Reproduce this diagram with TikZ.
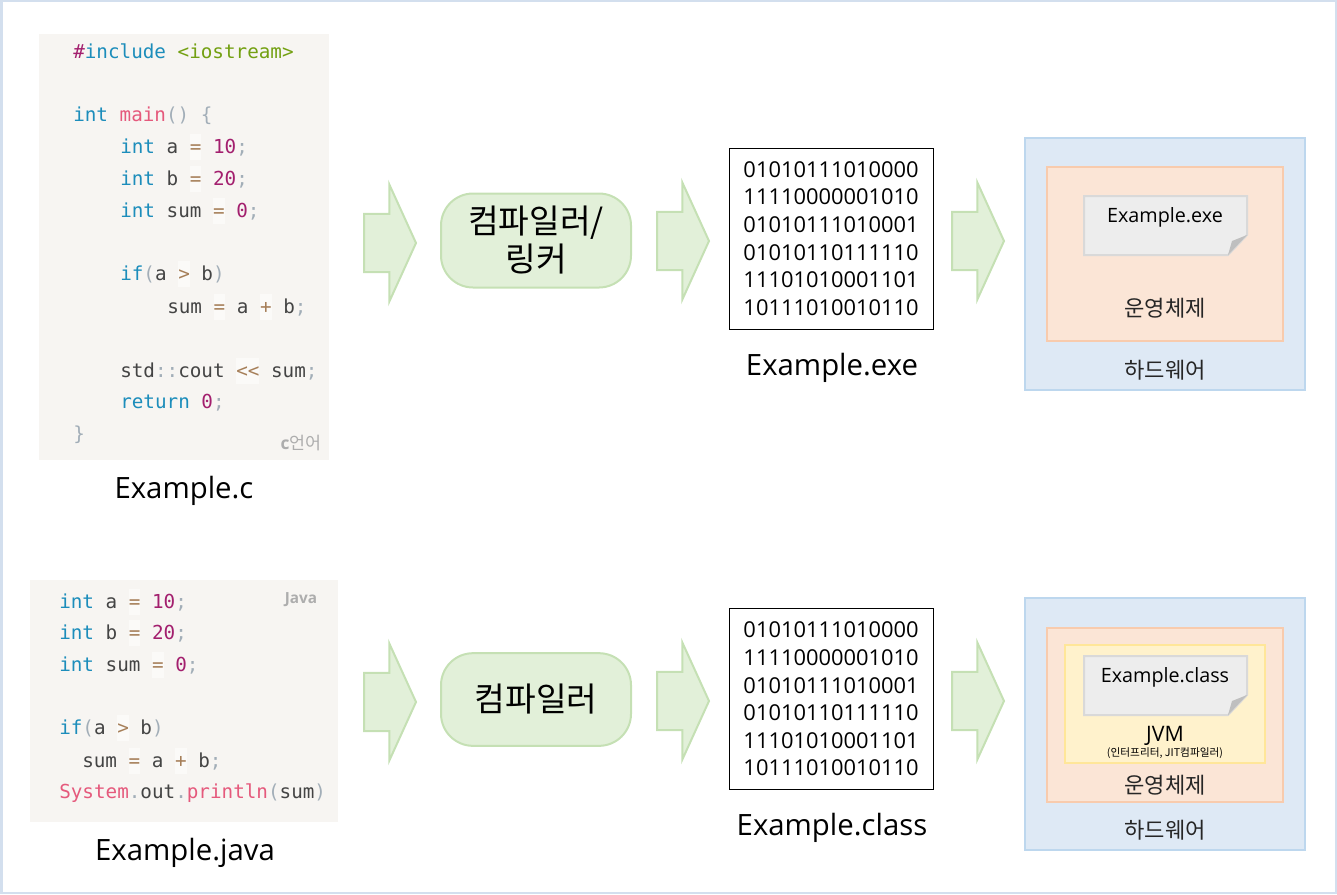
\documentclass[tikz,border=0pt]{standalone}
\usepackage{fontspec}
\setmainfont{Open Sans}
\setmonofont{DejaVu Sans Mono}
\newfontfamily\kofont{Noto Sans CJK KR}
\usetikzlibrary{shapes.arrows}

\definecolor{framecol}{HTML}{D3DFEE}
\definecolor{codebg}{HTML}{F7F5F2}
\definecolor{codeink}{HTML}{444444}
\definecolor{kwcol}{HTML}{1C8DBB}
\definecolor{fncol}{HTML}{E5597C}
\definecolor{numcol}{HTML}{A31F6E}
\definecolor{strcol}{HTML}{73A012}
\definecolor{opcol}{HTML}{A67F59}
\definecolor{pucol}{HTML}{A2AEB8}
\definecolor{opbg}{HTML}{FBFAF8}
\definecolor{greenfill}{HTML}{E2F0D9}
\definecolor{greenline}{HTML}{C5E0B4}
\definecolor{hwfill}{HTML}{DEE9F5}
\definecolor{hwline}{HTML}{BDD7EE}
\definecolor{osfill}{HTML}{FBE5D6}
\definecolor{osline}{HTML}{F8CBAD}
\definecolor{jvmfill}{HTML}{FFF2CC}
\definecolor{jvmline}{HTML}{FFE699}
\definecolor{docfill}{HTML}{EDEDED}
\definecolor{docline}{HTML}{D9D9D9}

\newcommand{\kw}[1]{\textcolor{kwcol}{#1}}
\newcommand{\fn}[1]{\textcolor{fncol}{#1}}
\newcommand{\num}[1]{\textcolor{numcol}{#1}}
\newcommand{\pu}[1]{\textcolor{pucol}{#1}}
\newcommand{\op}[1]{{\setlength{\fboxsep}{0pt}\colorbox{opbg}{\textcolor{opcol}{\rule[-5pt]{0pt}{19pt}#1}}}}

\tikzset{
    boxpart/.style={inner sep=0,line width=1.5pt},
    codepart/.style={boxpart,fill=codebg},
    codeline/.style={inner sep=0,anchor=base west,text=codeink,font=\fontsize{14.45pt}{17pt}\ttfamily},
    blockarrow/.style={single arrow,anchor=tail,fill=greenfill,draw=greenline,line width=1.5pt,
        inner xsep=0,inner ysep=21pt,minimum height=39pt,minimum width=88pt,
        single arrow head extend=22pt,shape border rotate=0,single arrow tip angle=131},
    stepbox/.style={boxpart,fill=greenfill,draw=greenline,rounded corners=24pt,
        align=center,font=\fontsize{25pt}{28.5pt}\kofont},
    binbox/.style={draw=black,line width=0.75pt,inner sep=0,align=center,
        font=\fontsize{16.4pt}{20.7pt}\selectfont},
    caption/.style={inner sep=0,font=\fontsize{22pt}{28pt}\selectfont},
    kotext/.style={inner sep=0,text=black!85,font=\fontsize{16.6pt}{18pt}\kofont},
}

\begin{document}
\begin{tikzpicture}[x=0.75pt,y=-0.75pt]
    \useasboundingbox (0,0) rectangle (1337,894);
    \node (frame) [draw=framecol,line width=1.5pt,inner sep=0,minimum width=1000.5pt,minimum height=668.5pt] at (668.5,447) {};

    % source code boxes
    \node (codec) [codepart,minimum width=217.5pt,minimum height=319.5pt] at (184,247) {};
    \node (codej) [codepart,minimum width=231pt,minimum height=181.5pt] at (184,701) {};
    \foreach \n/\xx/\yy/\txt in {
        1/73/58/{\textcolor{numcol}{\#}\kw{include} \textcolor{strcol}{<iostream>}},
        2/73/121/{\kw{int} \fn{main}\pu{()} \pu{\{}},
        3/120/153/{\kw{int} a \op{=} \num{10}\pu{;}},
        4/120/185/{\kw{int} b \op{=} \num{20}\pu{;}},
        5/120/217/{\kw{int} sum \op{=} \num{0}\pu{;}},
        6/120/280/{\kw{if}\pu{(}a \op{>} b\pu{)}},
        7/167/313/{sum \op{=} a \op{+} b\pu{;}},
        8/120/377/{std\pu{::}cout \op{<{}<} sum\pu{;}},
        9/120/408/{\kw{return} \num{0}\pu{;}},
        10/73/440/{\pu{\}}}} {
        \node (cline\n) [codeline] at (\xx,\yy) {\txt};
    }
    \foreach \n/\xx/\yy/\txt in {
        1/59/608/{\kw{int} a \op{=} \num{10}\pu{;}},
        2/59/639/{\kw{int} b \op{=} \num{20}\pu{;}},
        3/59/671/{\kw{int} sum \op{=} \num{0}\pu{;}},
        4/59/734/{\kw{if}\pu{(}a \op{>} b\pu{)}},
        5/82/767/{sum \op{=} a \op{+} b\pu{;}},
        6/59/798/{\fn{System}\pu{.}out\pu{.}\fn{println}\pu{(}sum\pu{)}}} {
        \node (jline\n) [codeline] at (\xx,\yy) {\txt};
    }
    \node (ctag) [inner sep=0,text=black!32,font=\fontsize{13pt}{15pt}\selectfont] at (301,443) {\textbf{c}{\kofont 언어}};
    \node (jtag) [inner sep=0,text=black!32,font=\fontsize{11.5pt}{13pt}\bfseries] at (301,600) {Java};
    \node (capc) [caption] at (184,491) {Example.c};
    \node (capj) [caption] at (185,853) {Example.java};

    % arrows
    \foreach \n/\xx/\yy in {a/363/243,b/656/241,c/951/241,d/363/702,e/656/701,f/951/701} {
        \node (arrow\n) [blockarrow] at (\xx,\yy) {};
    }

    % compiler steps
    \node (stepc) [stepbox,minimum width=142.5pt,minimum height=70.5pt] at (536,240.5) {컴파일러/\\링커};
    \node (stepj) [stepbox,minimum width=142.5pt,minimum height=69.5pt] at (536,699.5) {컴파일러};

    % binary files
    \foreach \n/\yy/\name in {c/238.5/exe,j/699/class} {
        \node (bin\n) [binbox,minimum width=153pt,minimum height=135.75pt] at (831,\yy) {
            01010111010000\\11110000001010\\01010111010001\\01010110111110\\11101010001101\\10111010010110};
    }
    \node (capexe) [caption] at (832,368) {Example.exe};
    \node (capclass) [caption] at (832,828) {Example.class};

    % machines
    \node (hwc) [boxpart,fill=hwfill,draw=hwline,minimum width=210pt,minimum height=189pt] at (1164.5,264) {};
    \node (hwj) [boxpart,fill=hwfill,draw=hwline,minimum width=210pt,minimum height=189pt] at (1164.5,724) {};
    \node (osc) [boxpart,fill=osfill,draw=osline,minimum width=177pt,minimum height=130.5pt] at (1165,254) {};
    \node (osj) [boxpart,fill=osfill,draw=osline,minimum width=177pt,minimum height=130.5pt] at (1165,715) {};
    \node (jvm) [boxpart,fill=jvmfill,draw=jvmline,minimum width=150pt,minimum height=88.5pt] at (1165,704) {};
    \foreach \yy in {196,656} {
        \draw [fill=docfill,draw=docline,line width=1.5pt] (1084,\yy) -- (1247,\yy) -- (1247,\yy+39) -- (1228,\yy+59) -- (1084,\yy+59) -- cycle;
        \fill [black!25] (1228,\yy+59) -- (1232,\yy+45) -- (1247,\yy+39) -- cycle;
    }
    \node (fileexe) [inner sep=0,font=\fontsize{14.8pt}{17pt}\selectfont] at (1165,217) {Example.exe};
    \node (fileclass) [inner sep=0,font=\fontsize{14.8pt}{17pt}\selectfont] at (1165,677) {Example.class};
    \node (labjvm) [inner sep=0,font=\fontsize{16pt}{18pt}\selectfont] at (1165,736) {JVM};
    \node (labsub) [inner sep=0,font=\fontsize{8pt}{9pt}\kofont] at (1165,753) {(인터프리터, JIT컴파일러)};
    \node (labosc) [kotext] at (1165,308) {운영체제};
    \node (labosj) [kotext] at (1165,785) {운영체제};
    \node (labhwc) [kotext] at (1165,370) {하드웨어};
    \node (labhwj) [kotext] at (1165,830) {하드웨어};
\end{tikzpicture}
\end{document}
